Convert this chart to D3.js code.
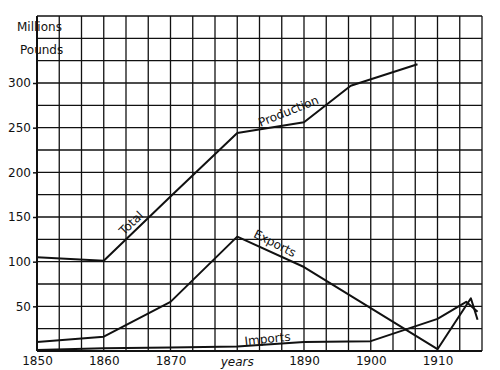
<!DOCTYPE html>
<html>
<head>
<meta charset="utf-8">
<script src="https://cdn.jsdelivr.net/npm/d3@7"></script>
<style>
  body { margin: 0; background: #fff; }
  text { font-family: "DejaVu Sans", sans-serif; fill: #111; }
</style>
</head>
<body>
<svg id="canvas" width="500" height="370"></svg>
<script>
const svg = d3.select("#canvas");

// values, millions of pounds
const prodYears = [1850, 1860, 1870, 1880, 1890, 1897, 1907];
const prodValues = [105, 101, 173, 244, 256, 297, 321];

const expYears = [1850, 1860, 1870, 1880, 1890, 1910, 1915, 1916];
const expValues = [10, 16, 55, 128, 94, 2, 59, 35];

const impYears = [1850, 1860, 1870, 1880, 1890, 1900, 1910, 1914.3, 1916];
const impValues = [1, 3, 4, 5, 10, 11, 36, 55, 44];

const yearTicks = [1850, 1860, 1870, 1890, 1900, 1910];
const valueTicks = [50, 100, 150, 200, 250, 300];

const x = d3.scaleLinear().domain([1850, 1850 + 200 / 3]).range([37, 482]);
const y = d3.scaleLinear().domain([0, 375]).range([351, 16]);

const grid = svg.append("g").attr("stroke", "#111").attr("stroke-width", 1.3);

// vertical grid, three per decade
d3.range(0, 21).forEach(i => {
  const xv = x(1850 + i * 10 / 3);
  grid.append("line")
    .attr("x1", xv).attr("x2", xv)
    .attr("y1", y(375)).attr("y2", y(0));
});

// horizontal grid, every 25
d3.range(25, 400, 25).forEach(v => {
  grid.append("line")
    .attr("x1", x.range()[0]).attr("x2", x.range()[1])
    .attr("y1", y(v)).attr("y2", y(v));
});

// heavier axis lines
svg.append("line")
  .attr("x1", 37).attr("x2", 37).attr("y1", y(375)).attr("y2", y(0))
  .attr("stroke", "#111").attr("stroke-width", 2);
svg.append("line")
  .attr("x1", 37).attr("x2", 482).attr("y1", y(0)).attr("y2", y(0))
  .attr("stroke", "#111").attr("stroke-width", 2.2);

// left ticks and labels
const yAxis = d3.axisLeft(y).tickValues(valueTicks).tickSize(4).tickPadding(2);
const ya = svg.append("g").attr("transform", "translate(37,0)").call(yAxis);
ya.select(".domain").remove();
ya.selectAll("line").attr("stroke", "#111").attr("stroke-width", 1.5);
ya.selectAll("text")
  .style("font-family", "DejaVu Sans, sans-serif")
  .style("font-size", "12px").attr("fill", "#111");

// bottom labels
const xAxis = d3.axisBottom(x).tickValues(yearTicks).tickSize(0).tickPadding(5)
  .tickFormat(d3.format("d"));
const xa = svg.append("g").attr("transform", `translate(0,${y(0)})`).call(xAxis);
xa.select(".domain").remove();
xa.selectAll("text")
  .style("font-family", "DejaVu Sans, sans-serif")
  .style("font-size", "12px").attr("fill", "#111");

svg.append("text")
  .attr("x", x(1880)).attr("y", 366)
  .attr("text-anchor", "middle")
  .style("font-size", "12px").style("font-style", "italic")
  .text("years");

svg.append("text").attr("x", 17).attr("y", 31).style("font-size", "12px").text("Millions");
svg.append("text").attr("x", 20).attr("y", 54).style("font-size", "12px").text("Pounds");

// the three series
const line = d3.line().x(d => x(d[0])).y(d => y(d[1]));
const series = [
  d3.zip(prodYears, prodValues),
  d3.zip(expYears, expValues),
  d3.zip(impYears, impValues)
];
series.forEach(s => {
  svg.append("path")
    .attr("d", line(s))
    .attr("fill", "none")
    .attr("stroke", "#111")
    .attr("stroke-width", 2)
    .attr("stroke-linejoin", "round");
});

// labels along the lines (baseline point, angle)
const lineLabel = (txt, bx, by, angle) => {
  svg.append("text")
    .attr("transform", `translate(${bx},${by}) rotate(${angle})`)
    .attr("text-anchor", "middle")
    .style("font-size", "12px")
    .text(txt);
};
lineLabel("Total", 134, 226, -44);
lineLabel("Production", 290, 115, -22);
lineLabel("Exports", 273, 247, 27);
lineLabel("Imports", 268, 343, -6);
</script>
</body>
</html>
